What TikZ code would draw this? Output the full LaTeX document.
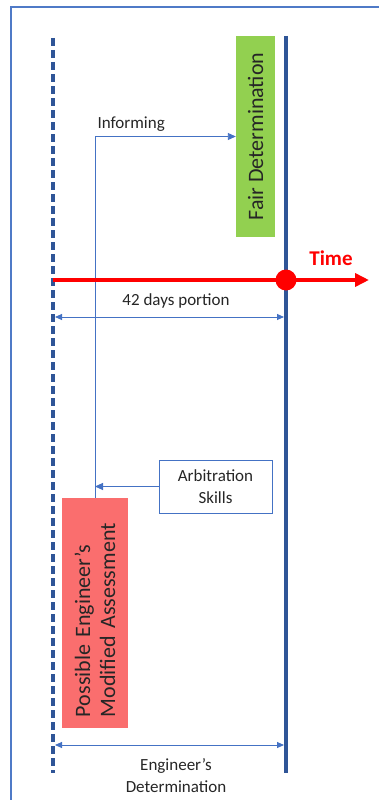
\documentclass[tikz,border=0pt]{standalone}
\usepackage{fontspec}
\setmainfont{Carlito}
\usetikzlibrary{arrows.meta}
\definecolor{framecol}{HTML}{4F7AC7}
\definecolor{axiscol}{HTML}{2F5597}
\definecolor{linkcol}{HTML}{4472C4}
\definecolor{fairgreen}{HTML}{92D050}
\definecolor{modred}{HTML}{FA6E6E}
\definecolor{timered}{HTML}{FF0000}
\definecolor{txt}{HTML}{262626}
\tikzset{
  smalltext/.style={font=\fontsize{17}{22}\selectfont, text=txt},
  bigtext/.style={font=\fontsize{22}{25}\selectfont, text=txt},
  link/.style={draw=linkcol, line width=0.9pt, -{Triangle[length=8pt,width=7pt]}},
  span/.style={draw=linkcol, line width=0.9pt, {Triangle[length=7pt,width=6pt]}-{Triangle[length=7pt,width=6pt]}},
  colbox/.style={rotate=90, inner sep=0pt, bigtext},
}
\begin{document}
\begin{tikzpicture}[x=1pt,y=-1pt]
\useasboundingbox (0,0) rectangle (378,800);
\fill[white] (0,0) rectangle (378,800);
% outer frame, running off the right and bottom edges
\draw[framecol, line width=1.3pt] (11,815) -- (11,7) -- (395,7);

% time boundaries
\coordinate (startTop) at (53,38);
\coordinate (startBot) at (53,773);
\coordinate (endTop) at (286,36);
\coordinate (endBot) at (286,773);
\draw[axiscol, line width=3.5pt, dash pattern=on 8pt off 4pt] (startTop) -- (startBot);
\draw[axiscol, line width=3.5pt] (endTop) -- (endBot);

% boxes
\node[colbox, fill=fairgreen, minimum width=201pt, minimum height=39pt] (fair) at (255.5,136.5) {Fair Determination};
\node[colbox, fill=modred, minimum width=230pt, minimum height=66pt, text width=208pt, align=left] (modified) at (95,613) {Possible Engineer’s\\Modified Assessment};
\node[draw=linkcol, line width=0.8pt, smalltext, minimum width=113pt, minimum height=53pt, align=center, inner sep=0pt] (arb) at (215.5,486.5) {Arbitration\\Skills};

% connectors
\draw[link] (modified.east) |- (fair.north);
\node[smalltext, anchor=base west] (informing) at (94,128) {Informing};
\draw[link] (arb.west) -- (modified.east |- arb.west);

% time axis
\coordinate (timeStart) at (53,280);
\coordinate (timeEnd) at (369,280);
\draw[timered, line width=3.5pt, -{Triangle[length=14pt,width=13pt]}] (timeStart) -- (timeEnd);
\node[circle, fill=timered, minimum size=21pt, inner sep=0pt] (deadline) at (286,280) {};
\node[font=\fontsize{21}{24}\selectfont\bfseries, text=timered] (time) at (331,258) {Time};

% 42 days span
\coordinate (spanA) at (53,317);
\coordinate (spanB) at (286,317);
\draw[span, shorten <=2pt, shorten >=2pt] (spanA) -- (spanB);
\node[smalltext] (days) at (176,301) {42 days portion};

% engineer's determination span
\coordinate (detA) at (53,745);
\coordinate (detB) at (286,745);
\draw[span, shorten <=2pt, shorten >=2pt] (detA) -- (detB);
\node[smalltext, align=center] (det) at (176,776) {Engineer’s\\Determination};
\end{tikzpicture}
\end{document}
